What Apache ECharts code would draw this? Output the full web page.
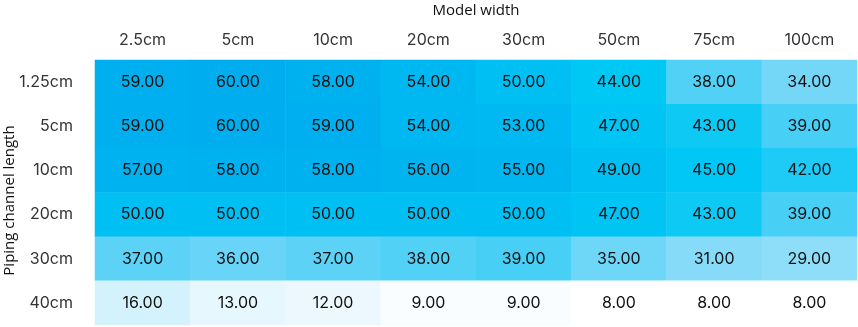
<!DOCTYPE html>
<html><head><meta charset="utf-8">
<script src="https://cdn.jsdelivr.net/npm/echarts@6/dist/echarts.min.js"></script>
<style>html,body{margin:0;padding:0;background:#fff}#c{width:858px;height:327px}</style>
</head><body><div id="c"></div>
<script>
const modelWidths = ['2.5cm','5cm','10cm','20cm','30cm','50cm','75cm','100cm'];
const channelLengths = ['1.25cm','5cm','10cm','20cm','30cm','40cm'];
const row125 = [59,60,58,54,50,44,38,34];
const row5   = [59,60,59,54,53,47,43,39];
const row10  = [57,58,58,56,55,49,45,42];
const row20  = [50,50,50,50,50,47,43,39];
const row30  = [37,36,37,38,39,35,31,29];
const row40  = [16,13,12,9,9,8,8,8];
const rows = [row125,row5,row10,row20,row30,row40];

const data = [];
rows.forEach((r, yi) => r.forEach((v, xi) => data.push([xi, yi, v])));

const chart = echarts.init(document.getElementById('c'));
const font = 'Inter, "Open Sans", sans-serif';
chart.setOption({
  animation: false,
  grid: {left: 95, right: 1, top: 60, bottom: 2, outerBoundsMode: 'none', containLabel: false},
  xAxis: {
    type: 'category', data: modelWidths, position: 'top',
    name: 'Model width', nameLocation: 'middle', nameGap: 42, nameMoveOverlap: false,
    nameTextStyle: {fontSize: 15, color: '#111', fontFamily: '"Open Sans", sans-serif'},
    axisLine: {show: false}, axisTick: {show: false}, splitLine: {show: false},
    axisLabel: {fontSize: 16, color: '#333', margin: 12, fontFamily: font}
  },
  yAxis: {
    type: 'category', data: channelLengths, inverse: true,
    name: 'Piping channel length', nameLocation: 'middle', nameGap: 78, nameRotate: 90,
    nameMoveOverlap: false,
    nameTextStyle: {fontSize: 15, color: '#111', fontFamily: '"Open Sans", sans-serif',
      padding: [0, 16, 0, 0]},
    axisLine: {show: false}, axisTick: {show: false}, splitLine: {show: false},
    axisLabel: {fontSize: 16, color: '#333', margin: 22, fontFamily: font}
  },
  visualMap: {
    show: false, min: 8, max: 60, dimension: 2,
    inRange: {color: ['#ffffff','#ecf8fe','#d4f2fc','#bdebfb','#a5e4fa','#92def9','#82daf8',
                      '#68d4f7','#3ccdf6','#00c8f5','#00c2f3','#00bbf2','#00b4f0','#00adef']}
  },
  series: [{
    type: 'heatmap', data: data,
    label: {show: true, fontSize: 16, color: '#111', fontFamily: font,
      formatter: p => p.value[2].toFixed(2)},
    itemStyle: {borderWidth: 0}
  }]
});
</script></body></html>
